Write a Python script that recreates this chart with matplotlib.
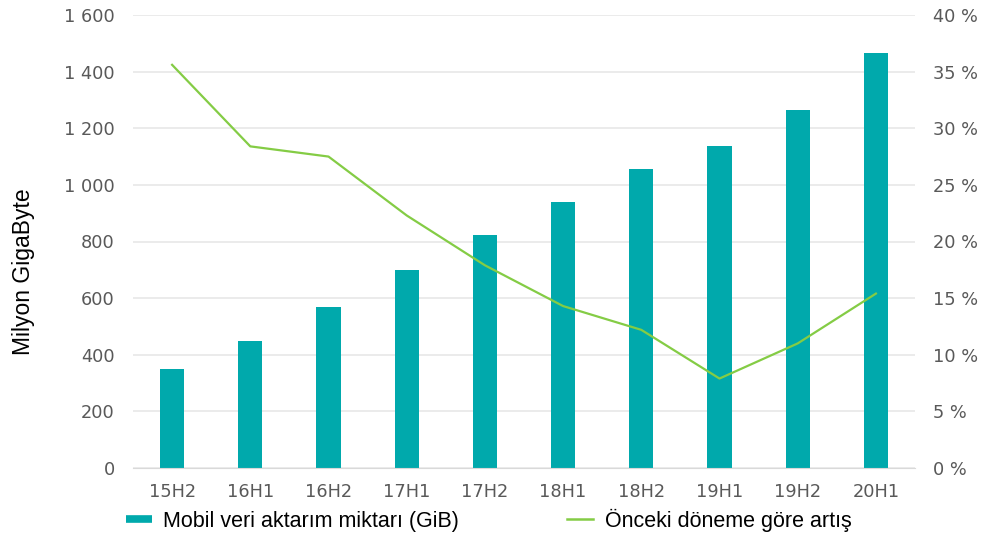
import matplotlib
matplotlib.use("Agg")
import matplotlib.pyplot as plt
from matplotlib.lines import Line2D
from matplotlib.ticker import FuncFormatter, MultipleLocator

plt.rcParams["font.family"] = ["DejaVu Sans"]

categories = ["15H2", "16H1", "16H2", "17H1", "17H2", "18H1", "18H2", "19H1", "19H2", "20H1"]
volume = [350, 450, 570, 700, 823, 940, 1057, 1138, 1265, 1466]
growth = [35.6, 28.4, 27.5, 22.3, 17.9, 14.3, 12.2, 7.9, 11.0, 15.4]

bar_label = "Mobil veri aktarım miktarı (GiB)"
line_label = "Önceki döneme göre artış"
ylabel = "Milyon GigaByte"

teal = "#00A9AC"
green = "#84CC45"
tick_color = "#595959"
grid_color = "#E6E6E6"

fig = plt.figure(figsize=(9.87, 5.35), dpi=100)
ax = fig.add_axes([133 / 987, 1 - 468 / 535, (915 - 133) / 987, (468 - 15) / 535])
x = range(len(categories))
ax.bar(x, volume, width=0.31, color=teal, zorder=2)
ax.set_xlim(-0.5, len(categories) - 0.5)
ax.set_ylim(0, 1600)
ax.yaxis.set_major_locator(MultipleLocator(200))
ax.yaxis.set_major_formatter(FuncFormatter(lambda v, p: f"{int(v):,}".replace(",", " ")))
ax.set_xticks(list(x))
ax.set_xticklabels(categories)
ax.grid(axis="y", color=grid_color, linewidth=1.1, zorder=0)
ax.set_axisbelow(True)
for s in ["top", "right", "left"]:
    ax.spines[s].set_visible(False)
ax.spines["bottom"].set_color("#D9D9D9")
ax.tick_params(axis="both", length=0, labelsize=12.8, colors=tick_color)
ax.tick_params(axis="y", pad=13)
ax.tick_params(axis="x", pad=11)
ax.set_ylabel(ylabel, family=["Liberation Sans Narrow", "Liberation Sans"], fontsize=16.5, color="black")
ax.yaxis.set_label_coords(-98 / 782, 0.433)

ax2 = ax.twinx()
ax2.plot(list(x), growth, color=green, linewidth=1.6, zorder=3)
ax2.set_ylim(0, 40)
ax2.yaxis.set_major_locator(MultipleLocator(5))
ax2.yaxis.set_major_formatter(FuncFormatter(lambda v, p: f"{int(v)} %"))
for s in ["top", "right", "left", "bottom"]:
    ax2.spines[s].set_visible(False)
ax2.tick_params(axis="y", length=0, labelsize=12.8, colors=tick_color, pad=13)

handles = [Line2D([0], [0], color=teal, linewidth=5.5, solid_capstyle="butt"),
           Line2D([0], [0], color=green, linewidth=1.8)]
fig.legend(handles, [bar_label, line_label], loc="center", bbox_to_anchor=(0.495, 0.028),
           ncol=2, frameon=False, prop={"family": "Liberation Sans", "size": 15.5},
           handlelength=1.2, handletextpad=0.55, columnspacing=5.0)

fig.savefig("out.png", dpi=100)
